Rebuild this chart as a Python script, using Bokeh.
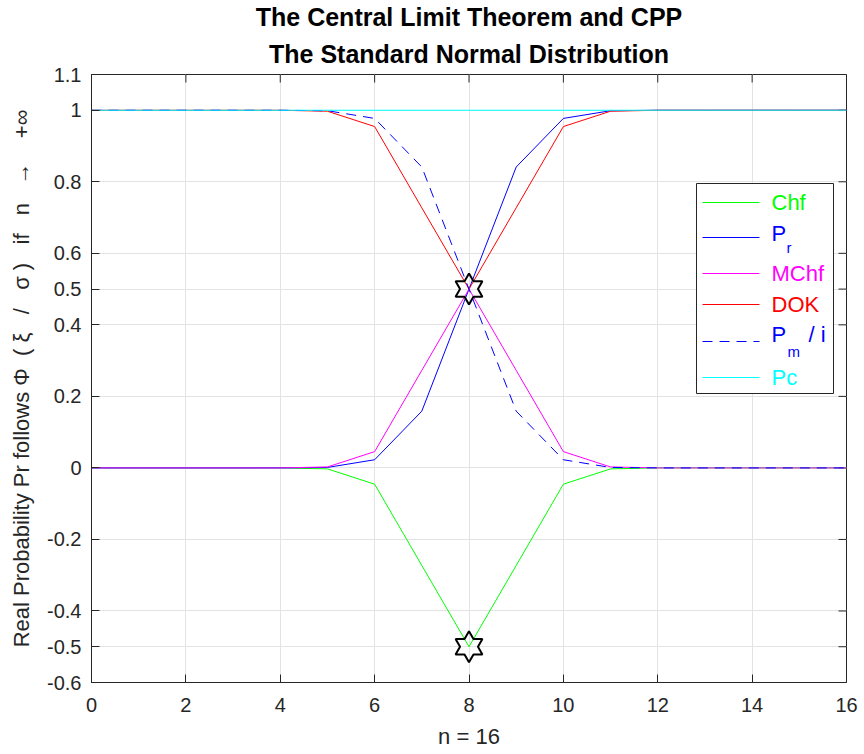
import math
from bokeh.plotting import figure
from bokeh.models import Range1d, FixedTicker, Title, CustomJSTickFormatter
from bokeh.core.properties import value
from bokeh.embed import file_html
from bokeh.resources import INLINE

# ---------------- data ----------------
n_vals = list(range(17))
chf  = [0, 0, 0, 0, 0, -0.0027, -0.0455, -0.2728, -0.5, -0.2728, -0.0455, -0.0027, 0, 0, 0, 0, 0]
pr   = [0, 0, 0, 0, 0.00003, 0.0013, 0.0228, 0.1587, 0.5, 0.8413, 0.9772, 0.9987, 1, 1, 1, 1, 1]
mchf = [0, 0, 0, 0, 0, 0.0027, 0.0455, 0.2728, 0.5, 0.2728, 0.0455, 0.0027, 0, 0, 0, 0, 0]
dok  = [1, 1, 1, 1, 1, 0.9973, 0.9545, 0.7272, 0.5, 0.7272, 0.9545, 0.9973, 1, 1, 1, 1, 1]
pm_i = [1, 1, 1, 1, 0.99997, 0.9987, 0.9772, 0.8413, 0.5, 0.1587, 0.0228, 0.0013, 0, 0, 0, 0, 0]
pc   = [1] * 17
star_x = [8, 8]
star_y = [0.5, -0.5]

x_ticks = [0, 2, 4, 6, 8, 10, 12, 14, 16]
y_ticks = [-0.6, -0.5, -0.4, -0.2, 0, 0.2, 0.4, 0.5, 0.6, 0.8, 1, 1.1]

title1 = "The Central Limit Theorem and CPP"
title2 = "The Standard Normal Distribution"
xlabel = "n = 16"
NB = "\u00a0"
ylabel = ("Real Probability Pr follows" + NB + "\u03a6" + NB * 2 + "(" + NB + "\u03be" + NB * 3 + "/"
          + NB * 3 + "\u03c3" + NB + ")" + NB * 3 + "if" + NB * 3 + "n" + NB * 3 + "\u2192"
          + NB * 4 + "+\u221e")

# ---------------- layout ----------------
FL, FT, FW, FH = 91, 74, 755, 608
X0, X1, Y0, Y1 = 0, 16, -0.6, 1.1
FONT = "Liberation Sans"
AX = "#262626"
TICK = 8

def xd(px):
    return X0 + (px - FL) / FW * (X1 - X0)

def yd(py):
    return Y1 - (py - FT) / FH * (Y1 - Y0)

sx_unit = (X1 - X0) / FW
sy_unit = (Y1 - Y0) / FH

p = figure(frame_width=FW, frame_height=FH, x_range=Range1d(X0, X1), y_range=Range1d(Y0, Y1),
           output_backend="svg", toolbar_location=None, title=None,
           min_border_left=FL, min_border_right=864 - FL - FW, min_border_top=FT,
           min_border_bottom=754 - FT - FH)
p.background_fill_color = "white"
p.border_fill_color = "white"
p.outline_line_color = AX
p.outline_line_width = 1

fmt = CustomJSTickFormatter(code="return String(Math.round(tick*10)/10);")

def style_axis(ax, ticks):
    ax.ticker = FixedTicker(ticks=ticks)
    ax.formatter = fmt
    ax.axis_line_color = AX
    ax.major_tick_line_color = AX
    ax.major_tick_in = TICK
    ax.major_tick_out = 0
    ax.minor_tick_line_color = None
    ax.major_label_text_font = FONT
    ax.major_label_text_font_size = "20px"
    ax.major_label_text_color = AX
    ax.axis_label_text_font = FONT
    ax.axis_label_text_font_size = "22px"
    ax.axis_label_text_font_style = "normal"
    ax.axis_label_text_color = AX

style_axis(p.xaxis[0], x_ticks)
style_axis(p.yaxis[0], y_ticks)
p.xaxis[0].axis_label = xlabel
p.yaxis[0].axis_label = ylabel
p.xaxis[0].major_label_standoff = 15
p.yaxis[0].major_label_standoff = 10
p.xaxis[0].axis_label_standoff = 9
p.yaxis[0].axis_label_standoff = 10

p.add_layout(Title(text=title2, align="center", text_font=FONT, text_font_size="25px",
                   text_font_style="bold", text_color="black", standoff=13), "above")
p.add_layout(Title(text=title1, align="center", text_font=FONT, text_font_size="25px",
                   text_font_style="bold", text_color="black", standoff=1), "above")

for g in (p.xgrid[0], p.ygrid[0]):
    g.grid_line_color = "#e3e3e3"
    g.grid_line_width = 1
p.xgrid[0].ticker = FixedTicker(ticks=x_ticks)
p.ygrid[0].ticker = FixedTicker(ticks=y_ticks)

# top and right tick marks (box on)
p.segment(x0=x_ticks, y0=[Y1] * len(x_ticks), x1=x_ticks, y1=[Y1 - TICK * sy_unit] * len(x_ticks),
          line_color=AX, line_width=1)
p.segment(x0=[X1] * len(y_ticks), y0=y_ticks, x1=[X1 - TICK * sx_unit] * len(y_ticks), y1=y_ticks,
          line_color=AX, line_width=1)

# ---------------- series ----------------
series = [
    ("Chf", chf, "#00ff00", "solid"),
    ("Pr", pr, "#0000ff", "solid"),
    ("MChf", mchf, "#ff00ff", "solid"),
    ("DOK", dok, "#ff0000", "solid"),
    ("Pm/i", pm_i, "#0000ff", "10 7"),
    ("Pc", pc, "#00ffff", "solid"),
]
for name, ys, col, dash in series:
    p.line(n_vals, ys, line_color=col, line_width=1, line_dash=dash)

# hexagram markers
R = 15.5
xs_list, ys_list = [], []
for cx, cy in zip(star_x, star_y):
    xs, ys = [], []
    for k in range(12):
        ang = math.radians(90 + 30 * k)
        r = R if k % 2 == 0 else R / math.sqrt(3)
        xs.append(cx + r * math.cos(ang) * sx_unit)
        ys.append(cy + r * math.sin(ang) * sy_unit)
    xs_list.append(xs)
    ys_list.append(ys)
p.patches(xs_list, ys_list, fill_color=None, line_color="black", line_width=2)

# ---------------- legend (drawn) ----------------
LB_L, LB_R, LB_T, LB_B = 696, 833, 183, 393
p.quad(left=[xd(LB_L)], right=[xd(LB_R)], top=[yd(LB_T)], bottom=[yd(LB_B)],
       fill_color="white", line_color=AX, line_width=1)
rows_py = [202, 237, 273, 304, 341, 377]
seg_x0, seg_x1, txt_x = 702, 759, 771
LFS = "22px"
for (name, ys, col, dash), py in zip(series, rows_py):
    p.segment(x0=[xd(seg_x0)], y0=[yd(py)], x1=[xd(seg_x1)], y1=[yd(py)],
              line_color=col, line_width=1, line_dash=dash)

def ltext(px, py, s, col, size=LFS):
    p.text(x=[xd(px)], y=[yd(py)], text=[s], text_color=col, text_font=value(FONT),
           text_font_size=size, text_baseline="middle", text_align="left")

ltext(txt_x, rows_py[0], "Chf", "#00ff00")
ltext(txt_x, rows_py[1] - 4, "P", "#0000ff")
ltext(txt_x + 15, rows_py[1] + 10, "r", "#0000ff", "15px")
ltext(txt_x, rows_py[2], "MChf", "#ff00ff")
ltext(txt_x, rows_py[3], "DOK", "#ff0000")
ltext(txt_x, rows_py[4] - 7, "P", "#0000ff")
ltext(txt_x + 16, rows_py[4] + 10, "m", "#0000ff", "15px")
ltext(808, rows_py[4] - 7, "/ i", "#0000ff")
ltext(txt_x, rows_py[5], "Pc", "#00ffff")

open("out.html", "w").write(file_html(p, INLINE))
